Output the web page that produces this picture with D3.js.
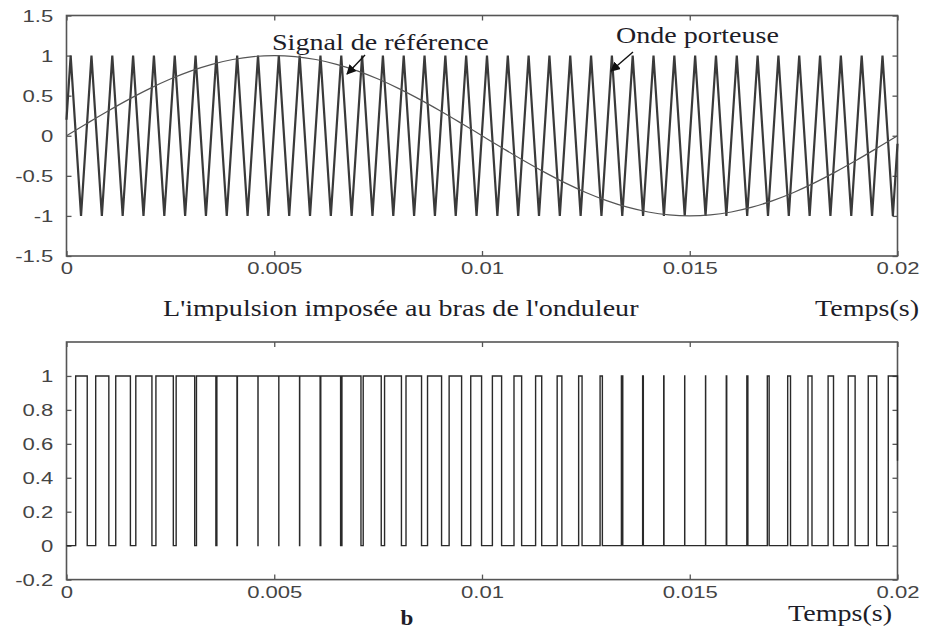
<!DOCTYPE html>
<html><head><meta charset="utf-8">
<script src="https://cdn.jsdelivr.net/npm/d3@7"></script>
<style>html,body{margin:0;padding:0;background:#fff;} svg{display:block}</style>
</head><body><svg id="c" width="928" height="632"></svg>
<script>
// ---------- data ----------
const timeTicks = [0, 0.005, 0.01, 0.015, 0.02];
const timeTickLabels = ["0", "0.005", "0.01", "0.015", "0.02"];
const topYTicks = [-1.5, -1, -0.5, 0, 0.5, 1, 1.5];
const topYTickLabels = ["-1.5", "-1", "-0.5", "0", "0.5", "1", "1.5"];
const botYTicks = [-0.2, 0, 0.2, 0.4, 0.6, 0.8, 1];
const botYTickLabels = ["-0.2", "0", "0.2", "0.4", "0.6", "0.8", "1"];

// reference (modulating) signal samples
const refTimes = [0, 0.0005, 0.001, 0.0015, 0.002, 0.0025, 0.003, 0.0035, 0.004, 0.0045,
  0.005, 0.0055, 0.006, 0.0065, 0.007, 0.0075, 0.008, 0.0085, 0.009, 0.0095,
  0.01, 0.0105, 0.011, 0.0115, 0.012, 0.0125, 0.013, 0.0135, 0.014, 0.0145,
  0.015, 0.0155, 0.016, 0.0165, 0.017, 0.0175, 0.018, 0.0185, 0.019, 0.0195, 0.02];
const refValues = [0, 0.156, 0.309, 0.454, 0.588, 0.707, 0.809, 0.891, 0.951, 0.988,
  1, 0.988, 0.951, 0.891, 0.809, 0.707, 0.588, 0.454, 0.309, 0.156,
  0, -0.156, -0.309, -0.454, -0.588, -0.707, -0.809, -0.891, -0.951, -0.988,
  -1, -0.988, -0.951, -0.891, -0.809, -0.707, -0.588, -0.454, -0.309, -0.156, 0];

// carrier (triangle) vertices
const carrierStartValue = 0.2;
const carrierEndValue = -0.1;
const carrierPeakTimes = [0.0001, 0.000601, 0.001102, 0.001603, 0.002104, 0.002605, 0.003106, 0.003607, 0.004108, 0.004609,
  0.00511, 0.005611, 0.006112, 0.006613, 0.007114, 0.007615, 0.008116, 0.008617, 0.009118, 0.009619,
  0.01012, 0.010621, 0.011122, 0.011623, 0.012124, 0.012625, 0.013126, 0.013627, 0.014128, 0.014629,
  0.01513, 0.015631, 0.016132, 0.016633, 0.017134, 0.017635, 0.018136, 0.018637, 0.019138, 0.019639];
const carrierTroughTimes = [0.00035, 0.000851, 0.001352, 0.001853, 0.002354, 0.002855, 0.003356, 0.003857, 0.004358, 0.004859,
  0.00536, 0.005861, 0.006362, 0.006863, 0.007364, 0.007865, 0.008366, 0.008867, 0.009368, 0.009869,
  0.01037, 0.010871, 0.011372, 0.011873, 0.012374, 0.012875, 0.013376, 0.013877, 0.014378, 0.014879,
  0.01538, 0.015881, 0.016382, 0.016883, 0.017384, 0.017885, 0.018386, 0.018887, 0.019388, 0.019889];

// switching instants of the gate pulse (1 -> 0 and 0 -> 1)
const pulseFallTimes = [0, 0.000499, 0.001019, 0.001538, 0.002056, 0.002571, 0.003085, 0.003595, 0.004103, 0.004608,
  0.0051099, 0.005609, 0.006104, 0.006597, 0.007087, 0.007575, 0.008061, 0.008545, 0.009027, 0.009509,
  0.00999, 0.010472, 0.010954, 0.011437, 0.011922, 0.012408, 0.012897, 0.013388, 0.013883, 0.01438,
  0.01488, 0.015383, 0.01589, 0.016399, 0.016911, 0.017425, 0.017942, 0.01846, 0.01898, 0.0195];
const pulseRiseTimes = [0.000221, 0.000703, 0.001185, 0.001668, 0.002152, 0.002639, 0.003128, 0.003619, 0.004113, 0.00461,
  0.0051101, 0.005613, 0.00612, 0.006629, 0.007141, 0.007655, 0.008171, 0.008689, 0.009209, 0.009729,
  0.01025, 0.01077, 0.01129, 0.011809, 0.012326, 0.012842, 0.013355, 0.013866, 0.014373, 0.014878,
  0.01538, 0.015879, 0.016374, 0.016867, 0.017357, 0.017845, 0.01833, 0.018814, 0.019296, 0.019778];
const pulseEndValue = 0.5;

// ---------- drawing ----------
const svg = d3.select("#c");
const SX = 1.38;       // horizontal stretch of the original figure's text
const serifSX = 1.17;

const x = d3.scaleLinear().domain([0, 0.02]).range([66.5, 897.5]);
const yTop = d3.scaleLinear().domain([-1.5, 1.5]).range([256, 15.5]);
const yBot = d3.scaleLinear().domain([-0.2, 1.2]).range([579.6, 342]);

svg.append("defs").append("marker")
  .attr("id", "arr").attr("viewBox", "0 0 10 10").attr("refX", 9).attr("refY", 5)
  .attr("markerWidth", 7).attr("markerHeight", 7).attr("orient", "auto-start-reverse")
  .append("path").attr("d", "M0,0 L10,5 L0,10 z").attr("fill", "#111");

function panel(y, yTicks, yLabels) {
  const g = svg.append("g");
  const [x0, x1] = x.range();
  const [yb, yt] = y.range();
  const fmtY = d => yLabels[yTicks.indexOf(d)];
  const fmtX = d => timeTickLabels[timeTicks.indexOf(d)];
  const style = sel => {
    sel.select(".domain").remove();
    sel.selectAll("line").attr("stroke", "#555").attr("stroke-width", 1.3);
    sel.selectAll("text").attr("font-family", "Liberation Sans, Arial, sans-serif")
      .attr("font-size", 16).attr("fill", "#444");
  };
  // left
  g.append("g").attr("transform", `translate(${x0},0)`)
    .call(d3.axisLeft(y).tickValues(yTicks).tickFormat(fmtY).tickSizeInner(-5).tickSizeOuter(0).tickPadding(9.6))
    .call(style)
    .call(s => s.selectAll("text").attr("transform", `scale(${SX},1)`).attr("dy", "0.36em"));
  // right
  g.append("g").attr("transform", `translate(${x1},0)`)
    .call(d3.axisRight(y).tickValues(yTicks).tickFormat("").tickSizeInner(-5).tickSizeOuter(0))
    .call(style);
  // bottom
  g.append("g").attr("transform", `translate(0,${yb})`)
    .call(d3.axisBottom(x).tickValues(timeTicks).tickFormat(fmtX).tickSizeInner(-5).tickSizeOuter(0).tickPadding(7))
    .call(style)
    .call(s => s.selectAll("text").attr("transform", `scale(${SX},1)`));
  // top
  g.append("g").attr("transform", `translate(0,${yt})`)
    .call(d3.axisTop(x).tickValues(timeTicks).tickFormat("").tickSizeInner(-5).tickSizeOuter(0))
    .call(style);
  // frame
  g.append("rect").attr("x", x0).attr("y", yt).attr("width", x1 - x0).attr("height", yb - yt)
    .attr("fill", "none").attr("stroke", "#555").attr("stroke-width", 1.6);
  return g;
}

// ----- top panel -----
const gTop = panel(yTop, topYTicks, topYTickLabels);
const carrierPts = [[0, carrierStartValue]];
carrierPeakTimes.forEach((t, i) => {
  carrierPts.push([t, 1]);
  carrierPts.push([carrierTroughTimes[i], -1]);
});
carrierPts.push([0.02, carrierEndValue]);

svg.append("path").datum(carrierPts)
  .attr("fill", "none").attr("stroke", "#3a3a3a").attr("stroke-width", 2.2)
  .attr("stroke-linejoin", "miter")
  .attr("d", d3.line().x(d => x(d[0])).y(d => yTop(d[1])));

svg.append("path").datum(refTimes.map((t, i) => [t, refValues[i]]))
  .attr("fill", "none").attr("stroke", "#555").attr("stroke-width", 1.2)
  .attr("d", d3.line().curve(d3.curveMonotoneX).x(d => x(d[0])).y(d => yTop(d[1])));

// ----- bottom panel -----
const gBot = panel(yBot, botYTicks, botYTickLabels);
const pulsePts = [[pulseFallTimes[0], 0]];
pulseFallTimes.forEach((tf, i) => {
  if (i > 0) { pulsePts.push([tf, 1]); pulsePts.push([tf, 0]); }
  pulsePts.push([pulseRiseTimes[i], 0]);
  pulsePts.push([pulseRiseTimes[i], 1]);
});
pulsePts.push([0.02, 1]);
pulsePts.push([0.02, pulseEndValue]);

svg.append("path").datum(pulsePts)
  .attr("fill", "none").attr("stroke", "#2a2a2a").attr("stroke-width", 1.4)
  .attr("d", d3.line().x(d => x(d[0])).y(d => yBot(d[1])));

// ----- texts -----
function stext(px, py, str, size, sx, anchor, weight) {
  return svg.append("text")
    .attr("transform", `translate(${px},${py}) scale(${sx},1)`)
    .attr("text-anchor", anchor || "start")
    .attr("font-family", "Liberation Serif, Times New Roman, serif")
    .attr("font-size", size).attr("font-weight", weight || "normal")
    .attr("fill", "#1d1d28").text(str);
}
stext(272, 50, "Signal de référence", 24, serifSX);
stext(616, 43, "Onde porteuse", 24, serifSX);
svg.append("line").attr("x1", 365).attr("y1", 55).attr("x2", 347).attr("y2", 74)
  .attr("stroke", "#111").attr("stroke-width", 1.4).attr("marker-end", "url(#arr)");
svg.append("line").attr("x1", 633).attr("y1", 52).attr("x2", 611).attr("y2", 71)
  .attr("stroke", "#111").attr("stroke-width", 1.4).attr("marker-end", "url(#arr)");

stext(163, 316, "L'impulsion imposée au bras de l'onduleur", 24, serifSX);
stext(815, 316, "Temps(s)", 24, serifSX);
stext(788, 621, "Temps(s)", 24, serifSX);
stext(407, 625, "b", 21, 1.1, "middle", "bold");
</script></body></html>
